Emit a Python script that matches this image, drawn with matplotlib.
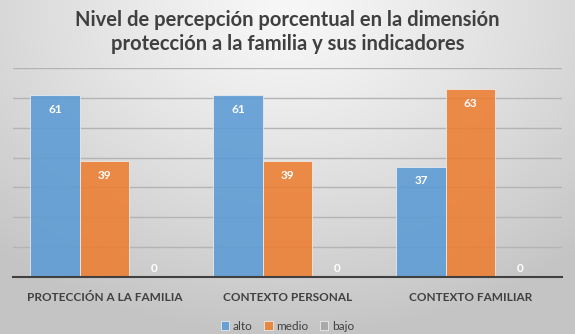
import numpy as np
import matplotlib
matplotlib.use("Agg")
import matplotlib.pyplot as plt

categories = ["PROTECCIÓN A LA FAMILIA", "CONTEXTO PERSONAL", "CONTEXTO FAMILIAR"]
series_names = ["alto", "medio", "bajo"]
alto = [61, 61, 37]
medio = [39, 39, 63]
bajo = [0, 0, 0]
title = "Nivel de percepción porcentual en la dimensión\nprotección a la familia y sus indicadores"

colors = ["#5b9bd5", "#ed7d31", "#a5a5a5"]
font = ["Lato", "DejaVu Sans"]
plt.rcParams["font.family"] = font

W, H = 575, 334
fig = plt.figure(figsize=(W / 100, H / 100), dpi=100)

# radial grey background, lightest at the top centre
bg = fig.add_axes([0, 0, 1, 1])
yy, xx = np.mgrid[0:H, 0:W]
r = np.sqrt(((xx - W / 2) / W) ** 2 + ((yy - 10) / (H * 1.3)) ** 2)
shade = 0.97 - 0.20 * np.clip(r / 0.75, 0, 1) ** 1.2
bg.imshow(np.dstack([shade] * 3), extent=[0, 1, 0, 1], aspect="auto", origin="upper")
bg.set_axis_off()

ax = fig.add_axes([13 / W, 1 - 277 / H, 549 / W, 209 / H])
ax.patch.set_alpha(0)
x = np.arange(len(categories))
bw = 0.27
for i, (vals, name, c) in enumerate(zip([alto, medio, bajo], series_names, colors)):
    pos = x + (i - 1) * bw
    ax.bar(pos, vals, bw, color=c, alpha=0.88, edgecolor="#f0f0f0",
           linewidth=0.6, label=name, zorder=3)
    for p, v in zip(pos, vals):
        ax.text(p, v - 3 if v > 0 else 3, f"{v}", ha="center", va="top" if v > 0 else "center",
                color="white", fontsize=8.5, fontweight="bold", zorder=4)

ax.set_xlim(-0.5, len(categories) - 0.5)
ax.set_ylim(0, 70)
ax.set_yticks(np.arange(10, 71, 10))
ax.tick_params(axis="y", left=False, labelleft=False)
ax.tick_params(axis="x", bottom=False, pad=7)
ax.set_xticks(x)
ax.set_xticklabels(categories, fontsize=8.5, fontweight="bold", color="#404040")
ax.yaxis.grid(True, color="#b4b4b4", linewidth=1.0, zorder=0)
for s in ["left", "right", "top"]:
    ax.spines[s].set_visible(False)
ax.spines["bottom"].set_color("#404040")
ax.spines["bottom"].set_linewidth(1.5)
ax.spines["bottom"].set_zorder(5)

fig.text(0.5, 1 - 32 / H, title, ha="center", va="center", fontsize=14.5,
         fontweight="bold", color="#404040", linespacing=1.25)

fig.legend(loc="center", bbox_to_anchor=(0.5, 1 - 326 / H), ncol=3, frameon=False,
           fontsize=8.5, handlelength=0.7, handleheight=0.7, handletextpad=0.3,
           columnspacing=1.0, labelcolor="#404040")

fig.savefig("out.png", dpi=100)
